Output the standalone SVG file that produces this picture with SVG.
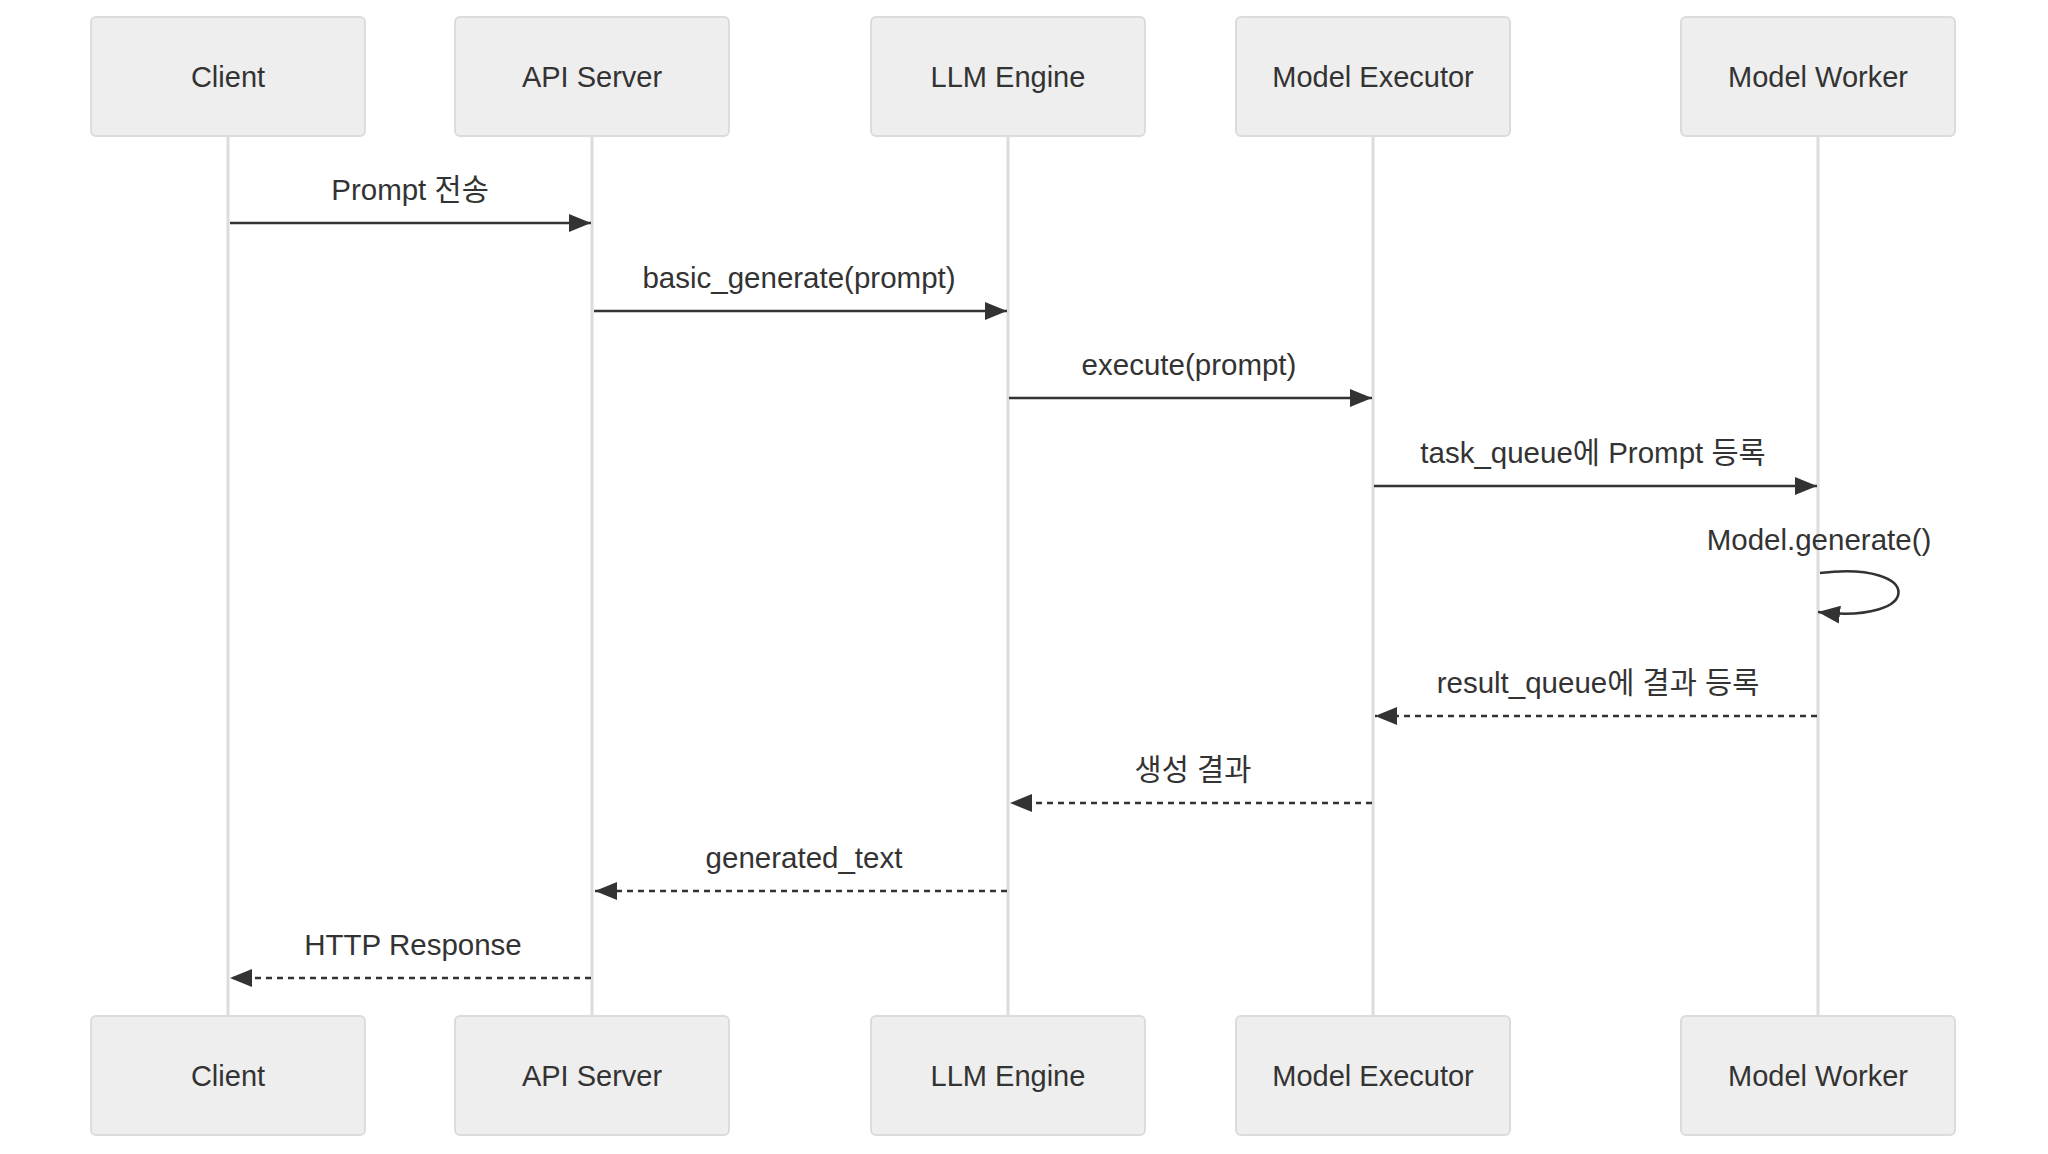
<svg xmlns="http://www.w3.org/2000/svg" width="2048" height="1154" viewBox="0 0 2048 1154">
<style>
.actor rect{fill:#eeeeee;stroke:#dcdcdc;stroke-width:2}
.actor text{font-family:"Liberation Sans","Noto Sans CJK KR",sans-serif;font-size:29px;fill:#333;text-anchor:middle;dominant-baseline:central}
.life{stroke:#dcdcdc;stroke-width:3}
.msg{stroke:#333;stroke-width:2.6;fill:none}
.dash{stroke-dasharray:6 5}
.lbl{font-family:"Liberation Sans","Noto Sans CJK KR",sans-serif;font-size:29.5px;fill:#333;text-anchor:middle}
</style>
<defs>
<marker id="ah" markerUnits="userSpaceOnUse" viewBox="0 0 22 18" refX="22" refY="9" markerWidth="22" markerHeight="18" orient="auto">
<path d="M0,0 L22,9 L0,18 z" fill="#333"/>
</marker>
</defs>
<rect width="2048" height="1154" fill="#ffffff"/>
<g id="lifelines">
<line class="life" x1="228" y1="136" x2="228" y2="1016"/>
<line class="life" x1="592" y1="136" x2="592" y2="1016"/>
<line class="life" x1="1008" y1="136" x2="1008" y2="1016"/>
<line class="life" x1="1373" y1="136" x2="1373" y2="1016"/>
<line class="life" x1="1818" y1="136" x2="1818" y2="1016"/>
</g>
<g id="client" class="actor"><rect x="91" y="17" width="274" height="119" rx="5"/><text x="228" y="77">Client</text></g>
<g id="api-server" class="actor"><rect x="455" y="17" width="274" height="119" rx="5"/><text x="592" y="77">API Server</text></g>
<g id="llm-engine" class="actor"><rect x="871" y="17" width="274" height="119" rx="5"/><text x="1008" y="77">LLM Engine</text></g>
<g id="model-executor" class="actor"><rect x="1236" y="17" width="274" height="119" rx="5"/><text x="1373" y="77">Model Executor</text></g>
<g id="model-worker" class="actor"><rect x="1681" y="17" width="274" height="119" rx="5"/><text x="1818" y="77">Model Worker</text></g>
<g id="client-bottom" class="actor"><rect x="91" y="1016" width="274" height="119" rx="5"/><text x="228" y="1076">Client</text></g>
<g id="api-server-bottom" class="actor"><rect x="455" y="1016" width="274" height="119" rx="5"/><text x="592" y="1076">API Server</text></g>
<g id="llm-engine-bottom" class="actor"><rect x="871" y="1016" width="274" height="119" rx="5"/><text x="1008" y="1076">LLM Engine</text></g>
<g id="model-executor-bottom" class="actor"><rect x="1236" y="1016" width="274" height="119" rx="5"/><text x="1373" y="1076">Model Executor</text></g>
<g id="model-worker-bottom" class="actor"><rect x="1681" y="1016" width="274" height="119" rx="5"/><text x="1818" y="1076">Model Worker</text></g>
<g id="connectors">
<line class="msg" x1="230" y1="223" x2="591" y2="223" marker-end="url(#ah)"/>
<text class="lbl" x="410" y="200">Prompt 전송</text>
<line class="msg" x1="594" y1="311" x2="1007" y2="311" marker-end="url(#ah)"/>
<text class="lbl" x="799" y="288">basic_generate(prompt)</text>
<line class="msg" x1="1009" y1="398" x2="1372" y2="398" marker-end="url(#ah)"/>
<text class="lbl" x="1189" y="375">execute(prompt)</text>
<line class="msg" x1="1374" y1="486" x2="1817" y2="486" marker-end="url(#ah)"/>
<text class="lbl" x="1593" y="463">task_queue에 Prompt 등록</text>
<text class="lbl" x="1819" y="550">Model.generate()</text>
<path class="msg" d="M1820,573 C1925,560 1925,625 1818,612" marker-end="url(#ah)"/>
<line class="msg dash" x1="1817" y1="716" x2="1375" y2="716" marker-end="url(#ah)"/>
<text class="lbl" x="1598" y="693">result_queue에 결과 등록</text>
<line class="msg dash" x1="1372" y1="803" x2="1010" y2="803" marker-end="url(#ah)"/>
<text class="lbl" x="1193" y="780">생성 결과</text>
<line class="msg dash" x1="1007" y1="891" x2="595" y2="891" marker-end="url(#ah)"/>
<text class="lbl" x="804" y="868">generated_text</text>
<line class="msg dash" x1="591" y1="978" x2="230" y2="978" marker-end="url(#ah)"/>
<text class="lbl" x="413" y="955">HTTP Response</text>
</g>
</svg>
